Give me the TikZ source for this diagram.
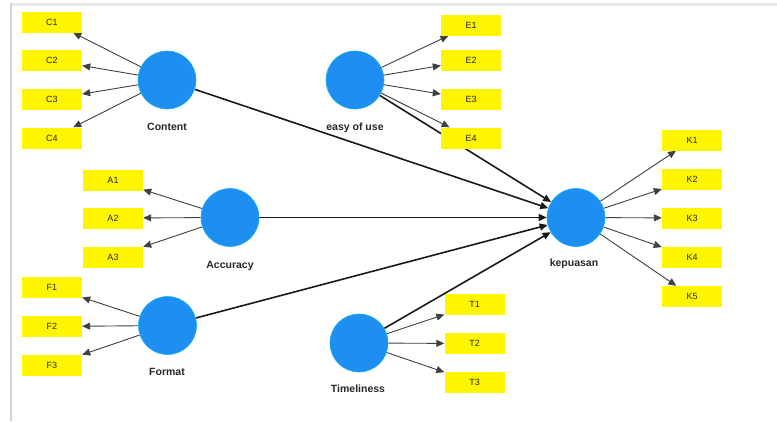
\documentclass[tikz,border=0pt]{standalone}
\usepackage{fontspec}
\setmainfont{Liberation Sans}
\usetikzlibrary{arrows.meta}
\pgfdeclarelayer{background}
\pgfsetlayers{background,main}
\definecolor{lvblue}{RGB}{30,142,240}
\definecolor{indyellow}{RGB}{255,245,0}
\begin{document}
\begin{tikzpicture}[x=1pt,y=-1pt,
  lv/.style={circle,fill=lvblue,draw=lvblue!70!cyan,line width=0.6pt,minimum size=58pt,inner sep=0pt},
  ind/.style={rectangle,fill=indyellow,minimum width=60pt,minimum height=21pt,inner sep=0pt,font=\fontsize{9}{10}\selectfont,text=black!85},
  lvlabel/.style={font=\fontsize{10.5}{12}\selectfont\bfseries,text=black!85,inner sep=1pt},
  load/.style={draw=black!75,line width=0.9pt,-{Triangle[length=8pt,width=7pt]}},
  path/.style={draw=black!90,line width=1.6pt,-{Triangle[length=8pt,width=7pt]}}]
\useasboundingbox (0,0) rectangle (777,421);
% frame
\draw[gray!18,line width=3pt] (11,4.5) -- (777,4.5);
\draw[gray!35,line width=1.2pt] (11,3) -- (11,421);

% latent variables
\node[lv] (content) at (167,80) {};
\node[lv] (easy) at (355,80) {};
\node[lv] (kep) at (576,217.5) {};
\node[lv] (acc) at (230,217.5) {};
\node[lv] (format) at (167.5,325.5) {};
\node[lv] (time) at (359,343) {};

% labels
\node[lvlabel] (lcontent) at (167,127) {Content};
\node[lvlabel] (leasy) at (355,128) {easy of use};
\node[lvlabel] (lkep) at (574,264) {kepuasan};
\node[lvlabel] (lacc) at (230,266) {Accuracy};
\node[lvlabel] (lformat) at (167,372) {Format};
\node[lvlabel] (ltime) at (358,389) {Timeliness};

% indicators
\node[ind] (C1) at (52,22) {C1};
\node[ind] (C2) at (52,60.5) {C2};
\node[ind] (C3) at (52,99) {C3};
\node[ind] (C4) at (52,138) {C4};
\node[ind] (E1) at (471,25) {E1};
\node[ind] (E2) at (471,60.5) {E2};
\node[ind] (E3) at (471,99) {E3};
\node[ind] (E4) at (471,138) {E4};
\node[ind] (K1) at (692,140) {K1};
\node[ind] (K2) at (692,179) {K2};
\node[ind] (K3) at (692,218) {K3};
\node[ind] (K4) at (692,257.5) {K4};
\node[ind] (K5) at (692,296.5) {K5};
\node[ind] (A1) at (113,180) {A1};
\node[ind] (A2) at (113,218) {A2};
\node[ind] (A3) at (113,257) {A3};
\node[ind] (F1) at (52,287.5) {F1};
\node[ind] (F2) at (52,326.5) {F2};
\node[ind] (F3) at (52,365) {F3};
\node[ind] (T1) at (474.5,304.5) {T1};
\node[ind] (T2) at (474.5,343.5) {T2};
\node[ind] (T3) at (474.5,382.5) {T3};

\begin{pgfonlayer}{background}
% loadings
\foreach \i in {C1,C2,C3,C4} \draw[load] (content) -- (\i);
\foreach \i in {E1,E2,E3,E4} \draw[load] (easy) -- (\i);
\foreach \i in {K1,K2,K3,K4,K5} \draw[load] (kep) -- (\i);
\foreach \i in {A1,A2,A3} \draw[load] (acc) -- (\i);
\foreach \i in {F1,F2,F3} \draw[load] (format) -- (\i);
\foreach \i in {T1,T2,T3} \draw[load] (time) -- (\i);
% structural paths
\foreach \s in {content,easy,acc,format,time} \draw[path] (\s) -- (kep);
\end{pgfonlayer}
\end{tikzpicture}
\end{document}
